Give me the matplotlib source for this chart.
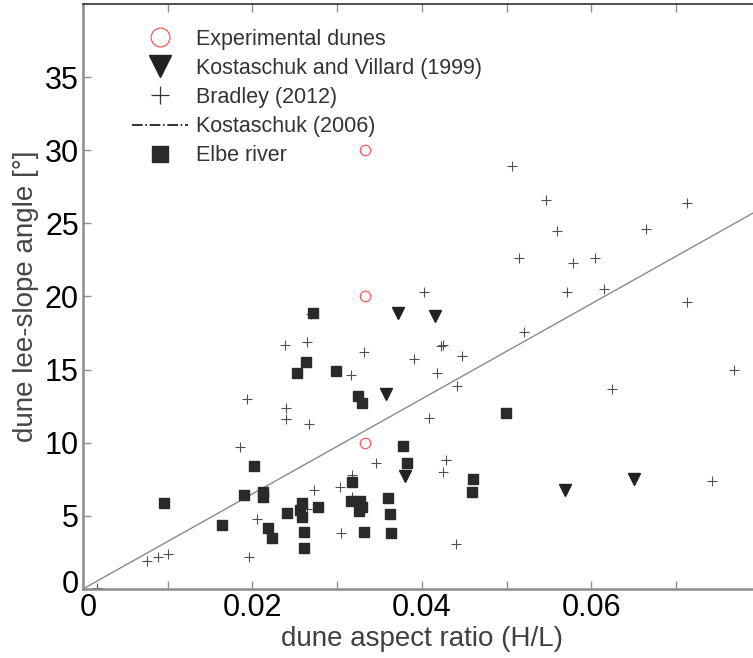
import numpy as np
import matplotlib
matplotlib.use("Agg")
import matplotlib.pyplot as plt
import matplotlib.transforms as mtransforms
from matplotlib.lines import Line2D

plt.rcParams['font.family'] = ['Liberation Sans', 'DejaVu Sans']

# Experimental dunes
exp_x = [0.0333, 0.0333, 0.0333]
exp_y = [30.0, 20.0, 10.0]

# Kostaschuk and Villard (1999)
kv_x = [0.0372, 0.0415, 0.0358, 0.0380, 0.0569, 0.0650]
kv_y = [18.9, 18.7, 13.3, 7.7, 6.8, 7.5]

# Bradley (2012)
br_x = [0.0016, 0.0075, 0.0089, 0.0100, 0.0185, 0.0194, 0.0196, 0.0206,
        0.0238, 0.0240, 0.0240, 0.0264, 0.0267, 0.0269, 0.0273, 0.0265,
        0.0303, 0.0304, 0.0316, 0.0318, 0.0318, 0.0332, 0.0346, 0.0391,
        0.0403, 0.0409, 0.0418, 0.0423, 0.0425, 0.0425, 0.0429, 0.0440,
        0.0441, 0.0448, 0.0506, 0.0515, 0.0521, 0.0546, 0.0560, 0.0571,
        0.0579, 0.0604, 0.0615, 0.0624, 0.0665, 0.0713, 0.0713, 0.0743,
        0.0769]
br_y = [0.1, 1.9, 2.2, 2.4, 9.7, 13.0, 2.2, 4.8,
        16.7, 12.4, 11.6, 16.9, 11.3, 18.8, 6.8, 5.5,
        7.0, 3.8, 14.6, 7.8, 6.3, 16.2, 8.6, 15.7,
        20.3, 11.7, 14.8, 16.6, 16.7, 8.0, 8.8, 3.1,
        13.9, 15.9, 28.9, 22.6, 17.6, 26.6, 24.5, 20.3,
        22.3, 22.6, 20.5, 13.7, 24.6, 26.4, 19.6, 7.4,
        15.0]

# Elbe river
elbe_x = [0.0271, 0.0263, 0.0253, 0.0299, 0.0325, 0.0329, 0.0499, 0.0202,
          0.0378, 0.0383, 0.0190, 0.0212, 0.0212, 0.0096, 0.0258, 0.0256,
          0.0258, 0.0278, 0.0241, 0.0164, 0.0218, 0.0223, 0.0261, 0.0261,
          0.0318, 0.0460, 0.0459, 0.0316, 0.0327, 0.0329, 0.0326, 0.0360,
          0.0362, 0.0332, 0.0364]
elbe_y = [18.9, 15.5, 14.8, 14.9, 13.2, 12.7, 12.0, 8.4,
          9.8, 8.6, 6.4, 6.6, 6.3, 5.9, 5.9, 5.4,
          4.9, 5.6, 5.2, 4.4, 4.2, 3.5, 3.9, 2.8,
          7.3, 7.5, 6.6, 6.0, 6.0, 5.6, 5.3, 6.2,
          5.1, 3.9, 3.8]

# Kostaschuk (2006) relation
line_x = [0.0, 0.08]
line_y = [0.0, 26.0]

fig = plt.figure(figsize=(7.53, 6.58), dpi=100)
ax = fig.add_axes([0.1102, 0.1049, 0.900, 0.889])

ax.plot(line_x, line_y, color='#8a8a8a', lw=1.0, zorder=1)
ax.plot(br_x, br_y, '+', color='#505050', ms=7.5, mew=0.8, ls='none', zorder=2)
ax.plot(elbe_x, elbe_y, 's', color='#2a2a2a', ms=6.6, ls='none', zorder=3)
ax.plot(kv_x, kv_y, 'v', color='#222222', ms=8.5, ls='none', zorder=3)
ax.plot(exp_x, exp_y, 'o', mfc='none', mec='#ff5a5a', ms=7.5, mew=0.9,
        ls='none', zorder=4)

ax.set_xlim(0, 0.08)
ax.set_ylim(0, 40)
ax.set_xticks(np.arange(0, 0.081, 0.01))
ax.set_xticklabels(['0', '', '0.02', '', '0.04', '', '0.06', '', ''])
ax.set_yticks(np.arange(0, 36, 5))
ax.tick_params(direction='in', length=6, width=1, color='#909090',
               labelsize=22, labelcolor='black', top=True, right=True, pad=3)

# nudge the two "0" labels apart at the origin
fig.canvas.draw()
ax.get_yticklabels()[0].set_transform(
    ax.get_yticklabels()[0].get_transform()
    + mtransforms.ScaledTranslation(0, 7 / 100, fig.dpi_scale_trans))
ax.get_xticklabels()[0].set_transform(
    ax.get_xticklabels()[0].get_transform()
    + mtransforms.ScaledTranslation(5 / 100, 0, fig.dpi_scale_trans))

for side in ['left', 'bottom']:
    ax.spines[side].set_color('#8c8c8c')
    ax.spines[side].set_linewidth(1.8)
ax.spines['top'].set_color('#303030')
ax.spines['top'].set_linewidth(1.2)

ax.set_xlabel('dune aspect ratio (H/L)', fontsize=20, color='#404040', labelpad=2)
ax.set_ylabel('dune lee-slope angle [°]', fontsize=20, color='#454545', labelpad=4)

handles = [
    Line2D([], [], marker='o', mfc='none', mec='#ff5a5a', ms=7.5, mew=0.9, ls='none'),
    Line2D([], [], marker='v', color='#222222', ms=8.5, ls='none'),
    Line2D([], [], marker='+', color='#333333', ms=7.5, mew=0.9, ls='none'),
    Line2D([], [], color='#111111', ls='-.', lw=1.2),
    Line2D([], [], marker='s', color='#2a2a2a', ms=6.6, ls='none'),
]
labels = ['Experimental dunes', 'Kostaschuk and Villard (1999)', 'Bradley (2012)',
          'Kostaschuk (2006)', 'Elbe river']
leg = ax.legend(handles, labels, loc='upper left', bbox_to_anchor=(0.072, 0.958),
                frameon=False, fontsize=15.5, markerscale=1.8, handlelength=2.6,
                handletextpad=0.4, labelspacing=0.38, borderpad=0, borderaxespad=0)
for t in leg.get_texts():
    t.set_color('#333333')

fig.savefig('out.png', dpi=100)
